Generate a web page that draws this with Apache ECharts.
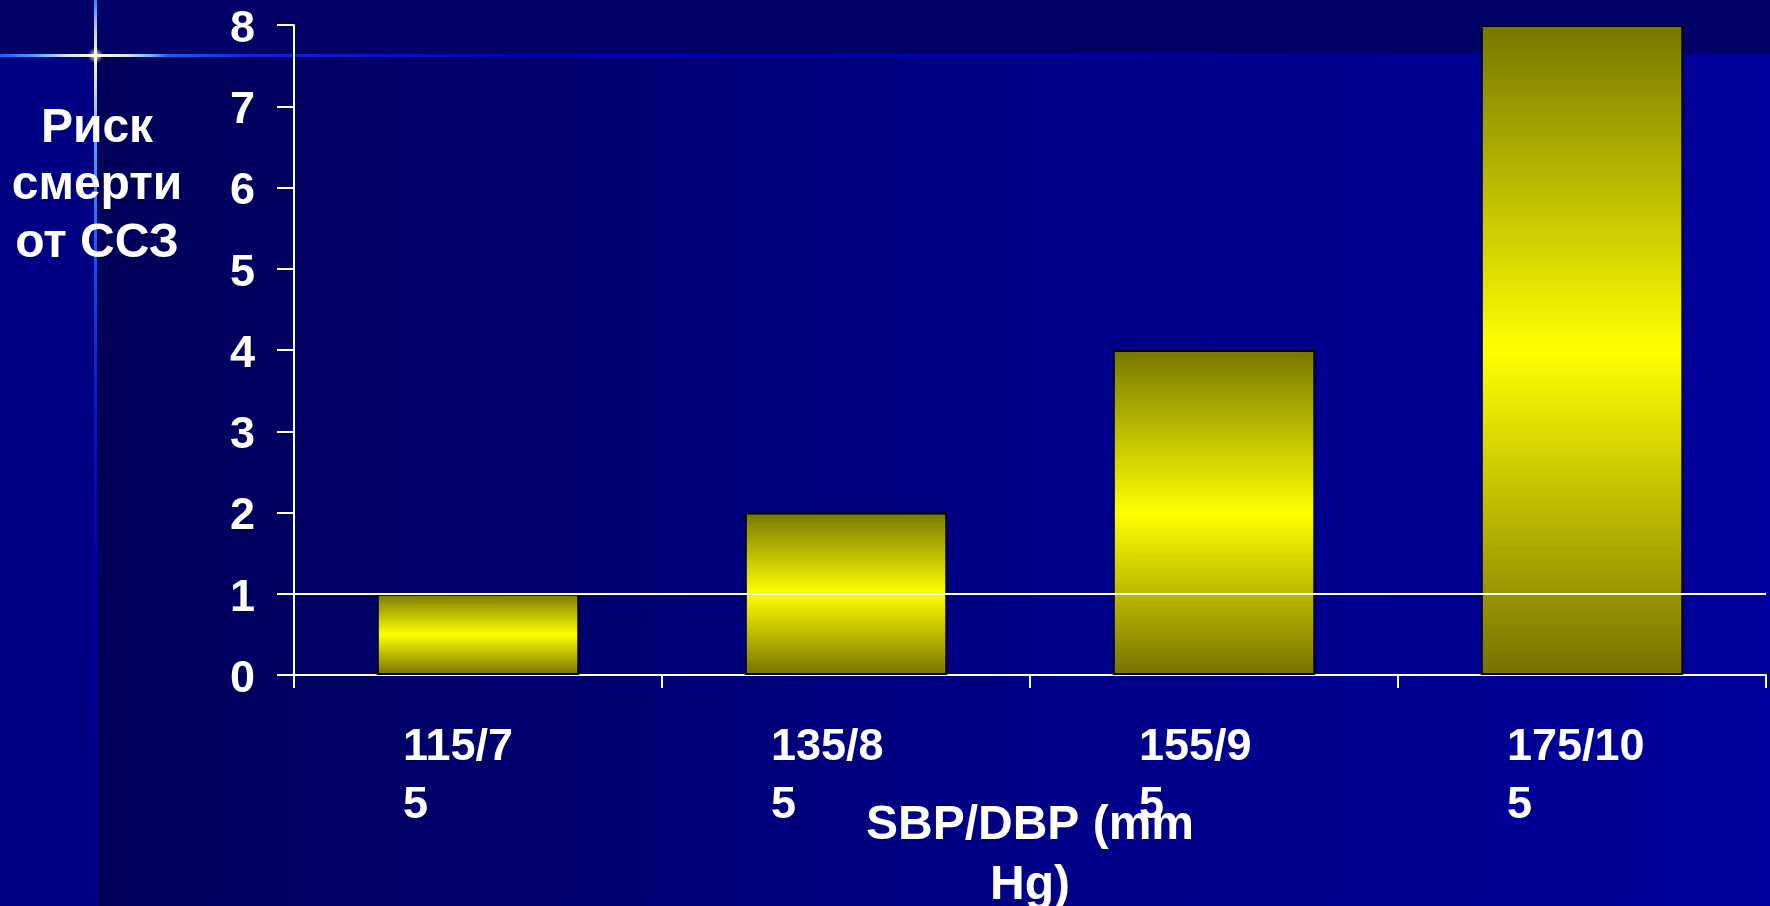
<!DOCTYPE html>
<html>
<head>
<meta charset="utf-8">
<script src="https://cdn.jsdelivr.net/npm/echarts@6/dist/echarts.min.js"></script>
<style>
  html, body { margin: 0; padding: 0; background: #000066; }
  #chart { width: 1770px; height: 906px; }
</style>
</head>
<body>
<div id="chart"></div>
<script>
// Blood pressure groups (tick labels, wrapped as shown on the axis)
const categories = ['115/7\n5', '135/8\n5', '155/9\n5', '175/10\n5'];
// Relative risk of cardiovascular death for each group
const riskValues = [1, 2, 4, 8];
// Baseline risk level drawn as a reference line
const referenceLevel = 1;
// Value axis range
const yMin = 0;
const yMax = 8;
const yStep = 1;

const yTitle = 'Риск\nсмерти\nот ССЗ';
const xTitle = 'SBP/DBP (mm\nHg)';

const FONT = '"Liberation Sans", Arial, sans-serif';
const W = 1770, H = 906;

const chart = echarts.init(document.getElementById('chart'), null, { renderer: 'canvas' });

const barFill = new echarts.graphic.LinearGradient(0, 0, 0, 1, [
  { offset: 0, color: '#777700' },
  { offset: 0.5, color: '#ffff00' },
  { offset: 1, color: '#777200' }
]);

// Slide backdrop: dark header band, lighter left strip, main panel with a horizontal gradient
const backdrop = [
  { type: 'rect', z: -20, silent: true, shape: { x: 0, y: 0, width: W, height: H }, style: { fill: '#000066' } },
  {
    type: 'rect', z: -19, silent: true, shape: { x: 95, y: 57, width: W - 95, height: H - 57 },
    style: { fill: new echarts.graphic.LinearGradient(0, 0, 1, 0, [
      { offset: 0, color: '#00005a' },
      { offset: 0.5, color: '#000084' },
      { offset: 1, color: '#00009c' }
    ]) }
  },
  { type: 'rect', z: -19, silent: true, shape: { x: 0, y: 57, width: 95, height: H - 57 }, style: { fill: '#000084' } },
  // horizontal light streak
  {
    type: 'rect', z: -18, silent: true, shape: { x: 0, y: 54, width: W, height: 3 },
    style: { fill: new echarts.graphic.LinearGradient(0, 0, 1, 0, [
      { offset: 0, color: '#1a5cff' },
      { offset: 0.02, color: '#5a9cff' },
      { offset: 0.038, color: '#d8e6f0' },
      { offset: 0.054, color: '#fffbe0' },
      { offset: 0.072, color: '#d8e6f0' },
      { offset: 0.088, color: '#5aa0ff' },
      { offset: 0.094, color: '#2060f0' },
      { offset: 0.14, color: '#0a28d8' },
      { offset: 0.3, color: '#0000b4' },
      { offset: 1, color: '#000098' }
    ]) }
  },
  // vertical light streak
  {
    type: 'rect', z: -18, silent: true, shape: { x: 94, y: 0, width: 3, height: H },
    style: { fill: new echarts.graphic.LinearGradient(0, 0, 0, 1, [
      { offset: 0, color: '#3a80ff' },
      { offset: 0.03, color: '#a8ccff' },
      { offset: 0.061, color: '#fffbe0' },
      { offset: 0.1, color: '#c0d8f8' },
      { offset: 0.16, color: '#5a98ff' },
      { offset: 0.3, color: '#1a48e0' },
      { offset: 0.45, color: '#0a18b8' },
      { offset: 0.65, color: '#00009c' },
      { offset: 1, color: '#000086' }
    ]) }
  },
  {
    type: 'circle', z: -17, silent: true, shape: { cx: 95.5, cy: 55.5, r: 8 },
    style: { fill: new echarts.graphic.RadialGradient(0.5, 0.5, 0.5, [
      { offset: 0, color: 'rgba(255,255,235,1)' },
      { offset: 0.4, color: 'rgba(255,250,220,0.55)' },
      { offset: 1, color: 'rgba(255,250,220,0)' }
    ]) }
  },
  // value axis title
  {
    type: 'text', z: 100, x: 97, y: 186,
    style: {
      text: yTitle, fill: '#ffffff', fontFamily: FONT, fontWeight: 'bold', fontSize: 48,
      align: 'center', verticalAlign: 'middle', lineHeight: 57.5
    }
  }
];

const option = {
  animation: false,
  textStyle: { fontFamily: FONT },
  graphic: backdrop,
  grid: { left: 294, right: 4, top: 25, bottom: 231, containLabel: false, outerBoundsMode: 'none' },
  xAxis: {
    type: 'category',
    data: categories,
    boundaryGap: true,
    axisLine: { show: true, lineStyle: { color: '#ffffff', width: 2 } },
    axisTick: { show: true, length: 13, alignWithLabel: false, lineStyle: { color: '#ffffff', width: 2 } },
    axisLabel: {
      interval: 0,
      margin: 44,
      width: 150,
      align: 'center',
      formatter: v => v.split('\n').map(s => '{t|' + s + '}').join('\n'),
      rich: {
        t: { align: 'left', color: '#ffffff', fontSize: 45, fontWeight: 'bold', fontFamily: FONT, lineHeight: 58 }
      }
    },
    splitLine: { show: false },
    name: xTitle,
    nameLocation: 'middle',
    nameGap: 121,
    nameMoveOverlap: false,
    nameTextStyle: { color: '#ffffff', fontSize: 48, fontWeight: 'bold', fontFamily: FONT, lineHeight: 60 }
  },
  yAxis: {
    type: 'value',
    min: yMin,
    max: yMax,
    interval: yStep,
    axisLine: { show: true, lineStyle: { color: '#ffffff', width: 2 } },
    axisTick: { show: true, length: 17, lineStyle: { color: '#ffffff', width: 2 } },
    // digits sit a few pixels below their tick
    axisLabel: { margin: 39, verticalAlign: 'top', lineHeight: 9, color: '#ffffff', fontSize: 45, fontWeight: 'bold', fontFamily: FONT },
    splitLine: { show: false }
  },
  series: [{
    type: 'bar',
    data: riskValues,
    barWidth: '55%',
    itemStyle: { color: barFill, borderColor: '#000000', borderWidth: 2 },
    markLine: {
      silent: true,
      z: 5,
      symbol: 'none',
      label: { show: false },
      lineStyle: { color: '#ffffff', width: 2, type: 'solid' },
      data: [{ yAxis: referenceLevel }]
    }
  }]
};

chart.setOption(option);
</script>
</body>
</html>
